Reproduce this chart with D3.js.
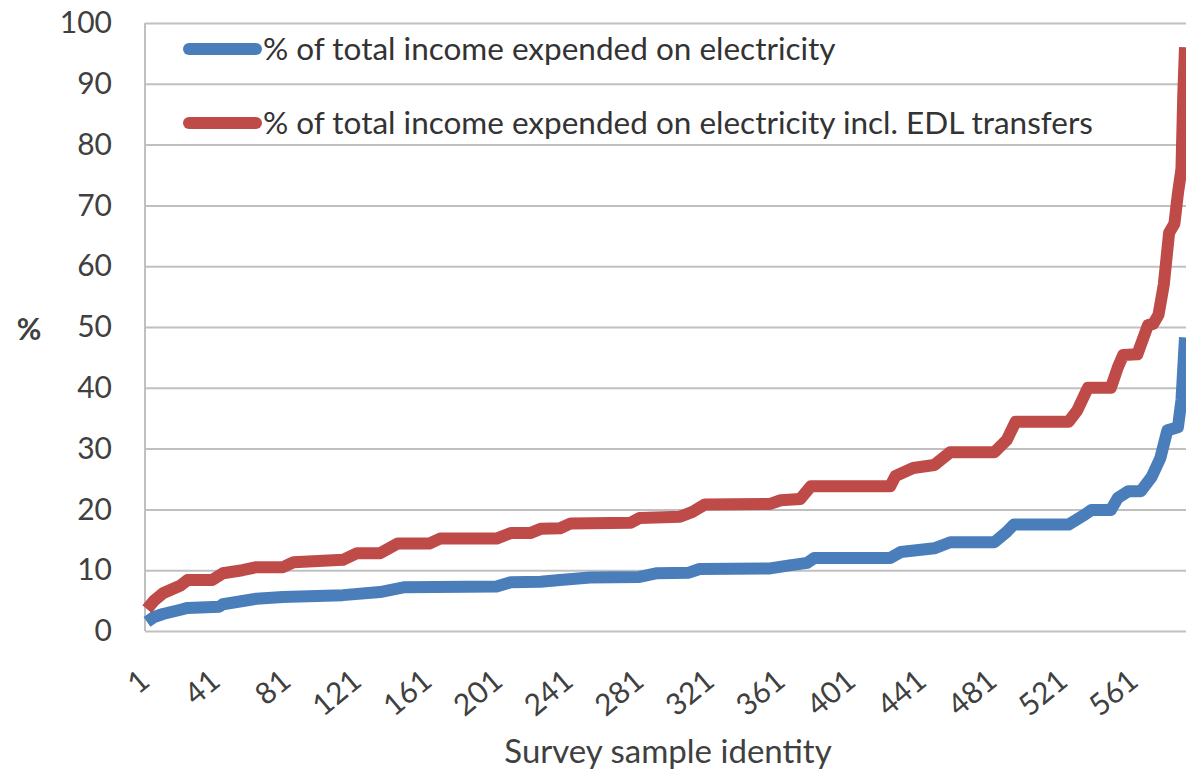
<!DOCTYPE html>
<html>
<head>
<meta charset="utf-8">
<script src="https://cdn.jsdelivr.net/npm/d3@7"></script>
<style>
  body { margin: 0; background: #fff; }
  svg { display: block; font-family: Lato, "Open Sans", sans-serif; }
</style>
</head>
<body>
<script>
// Data (sample id -> %)
const blueIds  = [1, 5, 10, 20, 24, 42, 44, 63, 78, 112, 133, 147, 199, 207, 224, 235, 252, 280, 290, 308, 314, 354, 365, 375, 379, 422, 428, 447, 456, 481, 488, 492, 523, 532, 536, 547, 551, 557, 564, 570, 575, 579, 585, 587, 589]
const blueVals = [1.5, 2.3, 2.8, 3.5, 3.8, 4.0, 4.4, 5.3, 5.6, 5.9, 6.4, 7.2, 7.3, 8.0, 8.1, 8.4, 8.8, 8.9, 9.5, 9.6, 10.2, 10.3, 10.8, 11.2, 12.0, 12.0, 13.0, 13.6, 14.6, 14.6, 16.3, 17.5, 17.5, 19.1, 19.9, 19.9, 21.9, 23.0, 23.0, 25.3, 28.4, 33.0, 33.5, 38.0, 48.3]

const redIds  = [1, 5, 10, 20, 24, 38, 44, 55, 63, 78, 84, 112, 120, 133, 143, 161, 167, 199, 207, 218, 224, 235, 241, 275, 280, 303, 310, 317, 354, 360, 371, 377, 422, 425, 435, 447, 456, 481, 488, 493, 523, 528, 534, 547, 551, 554, 562, 568, 571, 574, 577, 580, 583, 585, 587, 588, 589]
const redVals = [3.6, 5.0, 6.2, 7.5, 8.4, 8.4, 9.5, 10.0, 10.5, 10.5, 11.3, 11.7, 12.8, 12.8, 14.4, 14.4, 15.2, 15.2, 16.1, 16.1, 16.8, 16.9, 17.7, 17.8, 18.6, 18.8, 19.6, 20.8, 20.9, 21.5, 21.7, 23.8, 23.8, 25.5, 26.8, 27.3, 29.4, 29.4, 31.4, 34.4, 34.4, 36.3, 40.0, 40.0, 43.4, 45.4, 45.5, 50.3, 50.5, 52.0, 57.0, 65.5, 67.0, 72.0, 76.0, 88.0, 96.0]

const xTicks = [1, 41, 81, 121, 161, 201, 241, 281, 321, 361, 401, 441, 481, 521, 561]
const yTicks = [0, 10, 20, 30, 40, 50, 60, 70, 80, 90, 100]

const seriesNames = ['% of total income expended on electricity',
                     '% of total income expended on electricity incl. EDL transfers']
const seriesColors = ['#4a7ebb', '#be4b48']

// SVG
const W = 1186, H = 773
const plotLeft = 145, plotTop = 23, plotBottom = 631

let svg = d3.select('body').append('svg')
    .attr('width', W)
    .attr('height', H)

// Scales
const x = d3.scaleLinear().domain([1, 589]).range([147, 1185])
const y = d3.scaleLinear().domain([0, 100]).range([plotBottom, plotTop])

// Gridlines
svg.append('g')
    .attr('transform', `translate(${plotLeft},0)`)
    .call(d3.axisLeft(y).tickValues(yTicks).tickSize(-(W - plotLeft)).tickFormat(''))
    .call(g => g.select('.domain').remove())
    .call(g => g.selectAll('line').attr('stroke', '#c0c0c0').attr('stroke-width', 2))

// Left frame line
svg.append('line')
    .attr('x1', plotLeft).attr('x2', plotLeft)
    .attr('y1', plotTop).attr('y2', plotBottom)
    .attr('stroke', '#c0c0c0').attr('stroke-width', 2)

// Y axis labels
svg.append('g')
    .attr('transform', `translate(${plotLeft},0)`)
    .call(d3.axisLeft(y).tickValues(yTicks).tickSize(0).tickPadding(33))
    .call(g => g.select('.domain').remove())
    .call(g => g.selectAll('text')
        .attr('font-size', 30)
        .attr('font-family', 'Lato, sans-serif')
        .attr('fill', '#404040'))

// X axis labels
svg.append('g')
    .attr('transform', `translate(0,${plotBottom})`)
    .call(d3.axisBottom(x).tickValues(xTicks).tickSize(0))
    .call(g => g.select('.domain').remove())
    .call(g => g.selectAll('text')
        .attr('y', 0).attr('dy', 0)
        .attr('text-anchor', 'end')
        .attr('transform', 'translate(4,53) rotate(-40)')
        .attr('font-size', 30)
        .attr('font-family', 'Lato, sans-serif')
        .attr('fill', '#404040'))

// Axis titles
svg.append('text')
    .attr('x', 668).attr('y', 763)
    .attr('text-anchor', 'middle')
    .attr('font-size', 33)
    .attr('fill', '#404040')
    .text('Survey sample identity')

svg.append('text')
    .attr('x', 29).attr('y', 340)
    .attr('text-anchor', 'middle')
    .attr('font-size', 30)
    .attr('font-weight', 'bold')
    .attr('fill', '#404040')
    .text('%')

// Lines
const line = d3.line()
    .x(d => x(d[0]))
    .y(d => y(d[1]))

const series = [
    d3.zip(blueIds, blueVals),
    d3.zip(redIds, redVals)
]

svg.selectAll('.series')
    .data(series)
    .enter().append('path')
        .attr('class', 'series')
        .attr('d', line)
        .attr('fill', 'none')
        .attr('stroke', (d, i) => seriesColors[i])
        .attr('stroke-width', 12)
        .attr('stroke-linejoin', 'round')

// Legend
const legend = svg.selectAll('.legend')
    .data(seriesNames)
    .enter().append('g')
        .attr('class', 'legend')
        .attr('transform', (d, i) => `translate(0,${49 + i * 74})`)

legend.append('line')
    .attr('x1', 189).attr('x2', 256)
    .attr('stroke', (d, i) => seriesColors[i])
    .attr('stroke-width', 12)
    .attr('stroke-linecap', 'round')

legend.append('text')
    .attr('x', 263).attr('y', 11)
    .attr('font-size', 31.5)
    .attr('fill', '#333')
    .text(d => d)
</script>
</body>
</html>
